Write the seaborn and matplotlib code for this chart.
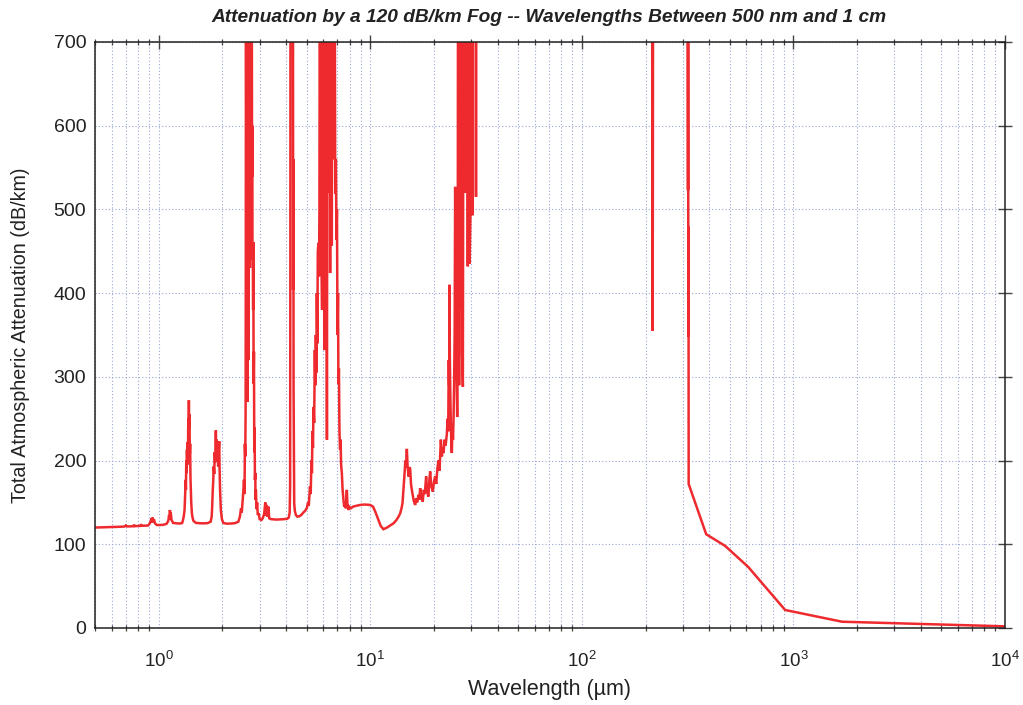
import matplotlib
matplotlib.use("Agg")
import matplotlib.pyplot as plt
import numpy as np
import pandas as pd
import seaborn as sns
from matplotlib.ticker import LogLocator, MultipleLocator, FuncFormatter, NullFormatter

# ---- spectrum, split by region (wavelength in um, attenuation in dB/km) ----
# visible / near-IR with the 0.94, 1.13, 1.38 and 1.87 um water features
wl_near_ir = [0.50, 0.55, 0.60, 0.65, 0.69, 0.70, 0.71, 0.76, 0.765, 0.77, 0.82, 0.825, 0.83,
              0.89, 0.905, 0.915, 0.925, 0.93, 0.935, 0.94, 0.95, 0.96, 0.98, 1.05, 1.09, 1.11,
              1.12, 1.125, 1.13, 1.135, 1.14, 1.15, 1.17, 1.25, 1.29, 1.30, 1.315, 1.325, 1.334,
              1.34, 1.345, 1.35, 1.355, 1.36, 1.365, 1.37, 1.375, 1.38, 1.385, 1.389, 1.393,
              1.398, 1.403, 1.408, 1.413, 1.419, 1.425, 1.435, 1.445, 1.46, 1.50, 1.60, 1.70,
              1.76, 1.78, 1.79, 1.80, 1.81, 1.82, 1.83, 1.84, 1.85, 1.863, 1.87, 1.876, 1.89,
              1.90, 1.91, 1.92, 1.932, 1.94, 1.95, 1.967, 1.99, 2.02, 2.10, 2.20, 2.30, 2.38,
              2.42, 2.45, 2.47, 2.49]
att_near_ir = [120.0, 120.3, 120.6, 120.9, 121.2, 122.5, 121.3, 121.6, 123.5, 121.7, 122.0, 124.0,
               122.1, 122.4, 124.5, 127.0, 131.0, 126.0, 132.0, 127.5, 130.0, 125.0, 123.0, 123.2,
               124.5, 128.0, 135.0, 130.0, 141.0, 133.0, 138.0, 129.0, 125.5, 124.8, 125.3, 128.0,
               134.0, 141.0, 160.0, 177.0, 165.0, 200.0, 185.0, 213.0, 195.0, 222.0, 205.0, 250.0,
               228.0, 272.0, 238.0, 255.0, 208.0, 220.0, 180.0, 165.0, 150.0, 137.0, 132.0, 128.0,
               125.5, 125.0, 125.2, 127.0, 133.0, 145.0, 163.0, 175.0, 193.0, 184.0, 210.0, 198.0,
               236.0, 212.0, 225.0, 203.0, 216.0, 193.0, 209.0, 223.0, 190.0, 165.0, 141.0, 130.0,
               125.5, 124.6, 124.8, 125.3, 127.0, 133.0, 143.0, 138.0, 150.0]

# 2.7 um water band
wl_band_2p7 = [2.51, 2.53, 2.545, 2.555, 2.565, 2.575, 2.58, 2.585, 2.595, 2.60, 2.61, 2.615,
               2.625, 2.63, 2.64, 2.645, 2.655, 2.66, 2.67, 2.675, 2.685, 2.69, 2.70, 2.705,
               2.715, 2.72, 2.73, 2.735, 2.745, 2.75, 2.757, 2.762, 2.77, 2.775, 2.785, 2.795,
               2.80, 2.81, 2.82, 2.83, 2.84, 2.85, 2.86, 2.87, 2.88, 2.90, 2.92, 2.94, 2.97,
               3.00, 3.06]
att_band_2p7 = [162, 177, 160, 220, 205, 257, 415, 900, 560, 900, 380, 900, 270, 900, 470, 900,
                320, 900, 550, 900, 640, 900, 430, 900, 600, 900, 480, 900, 650, 900, 700, 539,
                600, 440, 461, 380, 461, 292, 330, 210, 240, 177, 185, 153, 165, 142, 150, 135,
                137, 130, 129]

# 3-5 um, including the 4.26 um CO2 line
wl_mid_ir = [3.10, 3.15, 3.19, 3.21, 3.24, 3.27, 3.30, 3.33, 3.40, 3.60, 3.90, 4.05, 4.12, 4.16,
             4.18, 4.19, 4.20, 4.24, 4.28, 4.31, 4.32, 4.33, 4.34, 4.36, 4.37, 4.40, 4.45, 4.52,
             4.62, 4.72]
att_mid_ir = [131, 136, 150, 134, 147, 133, 145, 131, 130, 129.5, 130, 130.5, 132, 138, 170, 420,
              900, 1000, 1000, 900, 404, 560, 284, 175, 149, 140, 135, 133, 133.5, 135]

# 6.3 um water band
wl_band_6p3 = [4.83, 4.92, 5.01, 5.08, 5.12, 5.19, 5.23, 5.27, 5.30, 5.33, 5.36, 5.39, 5.43, 5.47,
               5.50, 5.53, 5.56, 5.59, 5.62, 5.65, 5.69, 5.72, 5.75, 5.78, 5.81, 5.84, 5.88, 5.92,
               5.95, 5.99, 6.03, 6.07, 6.10, 6.14, 6.18, 6.24, 6.28, 6.31, 6.34, 6.40, 6.43, 6.46,
               6.50, 6.54, 6.58, 6.62, 6.66, 6.70, 6.74, 6.78, 6.83, 6.88, 6.92, 6.96, 7.00, 7.04,
               7.07, 7.11, 7.15, 7.20, 7.24, 7.28, 7.34, 7.40, 7.47, 7.53, 7.60, 7.66, 7.72, 7.75,
               7.80, 7.88, 7.95, 8.10]
att_band_6p3 = [138, 140, 143, 150, 146, 169, 160, 200, 185, 235, 215, 264, 245, 332, 290, 350,
                305, 400, 340, 450, 460, 420, 499, 900, 560, 900, 450, 380, 900, 520, 900, 332,
                900, 600, 900, 225, 900, 700, 900, 520, 900, 424, 900, 580, 457, 900, 620, 900,
                560, 900, 519, 560, 464, 500, 350, 400, 292, 310, 235, 213, 225, 195, 185, 165,
                153, 145, 150, 143, 158, 165, 147, 141, 145, 143]

# 8-23 um window with the 15 um CO2 feature
wl_window = [8.30, 8.60, 8.96, 9.40, 9.99, 10.30, 10.56, 10.90, 11.20, 11.54, 12.00, 12.50, 12.87,
             13.30, 13.60, 13.85, 14.05, 14.20, 14.35, 14.51, 14.65, 14.75, 14.89, 15.00, 15.16,
             15.30, 15.44, 15.58, 15.72, 15.90, 16.05, 16.30, 16.50, 16.65, 16.90, 17.05, 17.21,
             17.40, 17.70, 17.90, 18.10, 18.37, 18.55, 18.83, 19.00, 19.19, 19.40, 19.75, 20.00,
             20.26, 20.50, 20.75, 21.00, 21.25, 21.56, 21.80, 22.00, 22.20, 22.45, 22.70, 23.00]
att_window = [145, 146, 147, 147.5, 147, 145, 139, 130, 122, 118, 120, 123, 125, 129, 133, 137,
              143, 149, 165, 183, 200, 192, 214, 195, 181, 192, 190, 172, 165, 158, 152, 147,
              155, 150, 159, 153, 167, 158, 151, 165, 160, 181, 163, 157, 175, 187, 170, 163,
              175, 181, 172, 190, 200, 188, 225, 205, 215, 209, 225, 218, 231]

# far-IR rotational water lines
wl_far_ir = [23.2, 23.35, 23.5, 23.6, 23.67, 23.78, 23.9, 24.05, 24.2, 24.3, 24.45, 24.6, 24.74,
             24.9, 25.05, 25.19, 25.3, 25.45, 25.6, 25.75, 25.9, 26.0, 26.15, 26.3, 26.45, 26.6,
             26.8, 26.95, 27.15, 27.4, 27.6, 27.8, 28.0, 28.2, 28.45, 28.6, 28.9, 29.05, 29.25,
             29.5, 29.75, 30.0, 30.2, 30.4, 30.6, 31.45, 31.6, 31.75, 33.0]
att_far_ir = [250, 235, 320, 290, 410, 320, 280, 240, 215, 209, 240, 225, 248, 290, 350, 527, 430,
              388, 300, 252, 330, 900, 420, 290, 460, 900, 380, 900, 330, 288, 900, 900, 520, 900,
              700, 900, 432, 600, 900, 435, 496, 900, 900, 493, 900, 900, 515, 900, 1500]

# sub-millimetre to centimetre range
wl_submm = [45, 80, 150, 205, 214.5, 216.0, 216.6, 217.3, 240, 300, 316.0, 317.4, 318.0, 318.6,
            319.2, 319.8, 387, 476, 611, 914, 1698, 10000]
att_submm = [3000, 4000, 2500, 1200, 900, 355, 528, 900, 1500, 1200, 900, 523, 800, 348, 480, 172,
             112, 98, 73, 21.5, 7.5, 2.0]

wavelength = (wl_near_ir + wl_band_2p7 + wl_mid_ir + wl_band_6p3 + wl_window
              + wl_far_ir + wl_submm)
attenuation = (att_near_ir + att_band_2p7 + att_mid_ir + att_band_6p3 + att_window
               + att_far_ir + att_submm)

title_text = "Attenuation by a 120 dB/km Fog -- Wavelengths Between 500 nm and 1 cm"
x_label = "Wavelength (\u00b5m)"
y_label = "Total Atmospheric Attenuation (dB/km)"

# ---- figure ----
sns.set_theme(style="white")
plt.rcParams["font.family"] = ["Liberation Sans", "DejaVu Sans"]
plt.rcParams["mathtext.fontset"] = "custom"
plt.rcParams["mathtext.rm"] = "Liberation Sans"
plt.rcParams["mathtext.it"] = "Liberation Sans:italic"
plt.rcParams["mathtext.bf"] = "Liberation Sans:bold"

fig, ax = plt.subplots(figsize=(10.23, 7.05), dpi=100)
fig.subplots_adjust(left=95 / 1023, right=1005 / 1023, bottom=(705 - 628) / 705,
                    top=(705 - 42) / 705)

df = pd.DataFrame({"wavelength": wavelength, "attenuation": attenuation})
sns.lineplot(data=df, x="wavelength", y="attenuation", ax=ax, sort=False, estimator=None,
             color="#ee2a2e", linewidth=1.8, solid_joinstyle="miter")

ax.set_xscale("log")
ax.set_xlim(0.5, 1e4)
ax.set_ylim(0, 700)

ax.xaxis.set_major_locator(LogLocator(base=10, numticks=10))
ax.xaxis.set_minor_locator(LogLocator(base=10, subs=np.arange(2, 10), numticks=100))
ax.xaxis.set_major_formatter(FuncFormatter(lambda v, p: r"$\mathregular{10^{%d}}$" % round(np.log10(v))))
ax.xaxis.set_minor_formatter(NullFormatter())
ax.yaxis.set_major_locator(MultipleLocator(100))

grid_kw = dict(color="#9aa6d6", linestyle=(0, (1, 2)), linewidth=0.8)
ax.grid(True, which="both", axis="x", **grid_kw)
ax.grid(True, which="major", axis="y", **grid_kw)

for s in ax.spines.values():
    s.set_color("#222222")
    s.set_linewidth(1.1)

ax.tick_params(which="major", direction="inout", length=9.5, width=1.0, color="#444444",
               top=True, right=True, labelsize=14, colors="#222222")
ax.tick_params(which="minor", direction="inout", length=5, width=0.9, color="#444444",
               top=True, bottom=True)
ax.tick_params(axis="x", which="major", labelsize=13.5, pad=12)
ax.tick_params(axis="y", which="major", pad=1.5)

ax.set_xlabel(x_label, fontsize=15.5, color="#222222")
ax.set_ylabel(y_label, fontsize=14.2, color="#222222")
ax.xaxis.set_label_coords(0.5, -0.087)
ax.yaxis.set_label_coords(-0.071, 0.5)

fig.text(549 / 1023, 1 - 18 / 705, title_text, ha="center", va="center",
         fontsize=13.8, fontweight="bold", fontstyle="italic", color="#222222")

fig.savefig("out.png", dpi=100)
